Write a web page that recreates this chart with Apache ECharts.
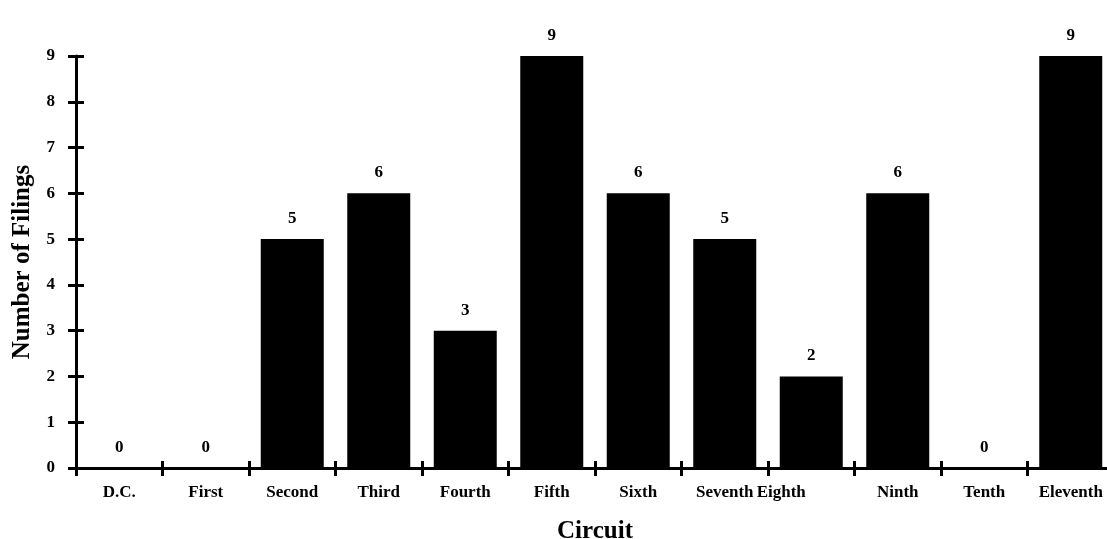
<!DOCTYPE html>
<html><head><meta charset="utf-8">
<script src="https://cdn.jsdelivr.net/npm/echarts@6/dist/echarts.min.js"></script>
<style>html,body{margin:0;padding:0;background:#fff}#c{width:1107px;height:539px}</style>
</head><body><div id="c"></div>
<script>
var categories = ['D.C.','First','Second','Third','Fourth','Fifth','Sixth','Seventh','Eighth','Ninth','Tenth','Eleventh'];
var filings = [0,0,5,6,3,9,6,5,2,6,0,9];
var yTicks = [0,1,2,3,4,5,6,7,8,9];

var font = 'Liberation Serif';
var chart = echarts.init(document.getElementById('c'));
chart.setOption({
  animation:false,
  backgroundColor:'#fff',
  grid:{left:76,top:56,width:1038,height:412,containLabel:false,outerBoundsMode:'none'},
  xAxis:[{
    type:'category', data:categories,
    name:'Circuit', nameLocation:'middle', nameGap:51,
    nameTextStyle:{fontFamily:font,fontWeight:'bold',fontSize:25,color:'#000',padding:[0,0,0,0]},
    axisLine:{lineStyle:{color:'#000',width:3}},
    axisTick:{show:true,alignWithLabel:false,length:8,lineStyle:{color:'#000',width:3}},
    axisLabel:{fontFamily:font,fontWeight:'bold',fontSize:17,color:'#000',margin:16,interval:0,
      formatter:function(v){return v==='Eighth'?'{e|'+v+'}':v;},
      rich:{e:{fontFamily:font,fontWeight:'bold',fontSize:17,color:'#000',padding:[0,60,0,0]}}},
    splitLine:{show:false}
  },{
    type:'category', data:categories, position:'bottom', gridIndex:0,
    axisLine:{show:false}, axisLabel:{show:false},
    axisTick:{show:true,inside:true,length:7,lineStyle:{color:'#000',width:3}}
  }],
  yAxis:[{
    type:'value', min:0, max:9, interval:1,
    name:'Number of Filings', nameLocation:'middle', nameGap:41, nameRotate:90,
    nameTextStyle:{fontFamily:font,fontWeight:'bold',fontSize:25,color:'#000'},
    axisLine:{show:true,lineStyle:{color:'#000',width:3}},
    axisTick:{show:true,length:8,lineStyle:{color:'#000',width:3}},
    axisLabel:{fontFamily:font,fontWeight:'bold',fontSize:17,color:'#000',margin:21,
      formatter:function(v){return yTicks.indexOf(v)>=0?String(v):'';}},
    splitLine:{show:false}
  },{
    type:'value', min:0, max:9, interval:1, position:'left',
    axisLine:{show:false}, axisLabel:{show:false}, splitLine:{show:false},
    axisTick:{show:true,inside:true,length:8,lineStyle:{color:'#000',width:3}}
  }],
  series:[{
    type:'bar', data:filings, barWidth:63,
    itemStyle:{color:'#000'},
    label:{show:true,position:'top',distance:12,fontFamily:font,fontWeight:'bold',fontSize:17,color:'#000'}
  }]
});
</script></body></html>
